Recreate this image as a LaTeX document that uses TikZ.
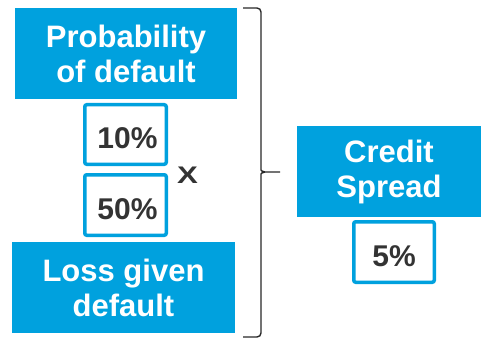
\documentclass[tikz,border=0pt]{standalone}
\usepackage{fontspec}
\setmainfont{Liberation Sans}
\usepackage{xcolor}
\definecolor{cdsblue}{RGB}{0,161,222}
\definecolor{cdsgray}{RGB}{51,51,51}
\definecolor{cdsbrace}{RGB}{40,40,40}
\usetikzlibrary{positioning}

\tikzset{
  bluebox/.style={fill=cdsblue, text=white, align=center, inner sep=0pt,
    font=\fontsize{31}{35}\selectfont\bfseries},
  valbox/.style={draw=cdsblue, line width=3.5pt, rounded corners=2pt, fill=white,
    text=cdsgray, inner sep=0pt, text height=29pt, text depth=1pt,
    font=\fontsize{30}{35}\selectfont\bfseries},
  bracepath/.style={draw=cdsbrace, line width=1.4pt, rounded corners=4pt}
}

\begin{document}
\begin{tikzpicture}[x=1pt, y=-1pt]
  \useasboundingbox (0,0) rectangle (481,339);

  % left column
  \node[bluebox, minimum width=222pt, minimum height=91pt] (pd) at (126,53.5)
        {Probability\\of default};
  \node[valbox, minimum width=81.5pt, minimum height=59.5pt] (pdval) at (125.5,134.5)
        {\hspace*{4pt}10\%};
  \node[valbox, minimum width=81.5pt, minimum height=60.5pt] (lgdval) at (125.5,205)
        {\hspace*{4pt}50\%};
  \node[bluebox, minimum width=223pt, minimum height=91pt] (lgd) at (123.5,287.5)
        {Loss given\\default};
  \node[text=cdsgray, font=\fontsize{24}{24}\selectfont\bfseries] (times) at (187.5,175.5)
        {\scalebox{1.3}[1]{X}};

  % brace
  \coordinate (bracetop) at (243,8);
  \coordinate (bracebot) at (243,337);
  \coordinate (bracetip) at (280,172);
  \draw[bracepath] (bracetop) -- (261,8) -- (261,166)
        [sharp corners] .. controls (261,170) and (262,172) .. (265,172) -- (bracetip);
  \draw[bracepath] (bracebot) -- (261,337) -- (261,178)
        [sharp corners] .. controls (261,174) and (262,172) .. (265,172);

  % right column
  \node[bluebox, minimum width=184pt, minimum height=91pt] (cs) at (389,171.5)
        {Credit\\Spread};
  \node[valbox, minimum width=80.5pt, minimum height=60.5pt] (csval) at (394,252)
        {5\%};
\end{tikzpicture}
\end{document}
